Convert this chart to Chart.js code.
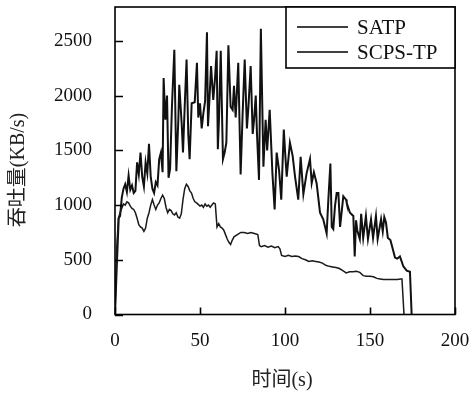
<!DOCTYPE html>
<html>
<head>
<meta charset="utf-8">
<script src="https://cdn.jsdelivr.net/npm/chart.js@4/dist/chart.umd.min.js"></script>
<style>
  html, body { margin: 0; padding: 0; background: #fff; }
  #wrap { width: 474px; height: 393px; }
</style>
</head>
<body>
<div id="wrap"><canvas id="c" width="474" height="393"></canvas></div>
<script>
// Throughput over time for two transport protocols
const seriesNames = ['SATP', 'SCPS-TP'];
const xTitle = '时间(s)';
const yTitle = '吞吐量(KB/s)';
const xTicks = [0, 50, 100, 150, 200];
const yTicks = [0, 500, 1000, 1500, 2000, 2500];

const satpTime = [0, 1, 2, 3, 4, 5, 6, 7, 8, 9, 10, 11, 12, 13, 14, 15, 16, 17, 18, 19,
  20, 21, 22, 23, 24, 25, 26, 27, 28, 29, 30, 31, 32, 33, 34, 35, 36, 37, 38, 39,
  40, 41, 42, 43, 44, 45, 46, 47, 48, 50, 51, 52, 53, 54, 55, 56, 57, 58, 59, 60,
  61, 62, 63, 64, 65, 66, 67, 68, 69, 70, 72, 74, 76, 78, 80, 82, 84, 85, 86, 88,
  90, 92, 94, 96, 97, 98, 100, 102, 104, 106, 108, 110, 112, 114, 116, 118, 120, 122, 124, 126,
  128, 130, 132, 134, 136, 138, 140, 142, 144, 146, 148, 150, 152, 154, 156, 158, 160, 162, 164, 166,
  168, 168.8, 170];
const satpValue = [0, 600, 880, 930, 970, 1010, 1000, 1030, 1020, 990, 970, 960, 930, 880, 820, 800, 790, 760, 790, 880,
  930, 1000, 1050, 1000, 960, 1000, 1020, 1060, 1090, 1060, 980, 930, 960, 950, 920, 910, 930, 890, 880, 920,
  1050, 1150, 1190, 1170, 1130, 1110, 1060, 1030, 1020, 990, 1000, 980, 1010, 990, 1000, 980, 1000, 1020, 1010, 800,
  830, 800, 790, 770, 730, 690, 660, 640, 680, 710, 730, 750, 750, 740, 750, 740, 730, 630, 620, 630,
  615, 625, 610, 620, 600, 540, 530, 540, 530, 535, 530, 510, 500, 485, 490, 485, 480, 470, 450, 440,
  435, 430, 420, 400, 380, 390, 390, 395, 385, 355, 350, 350, 345, 330, 325, 320, 320, 320, 320, 320,
  325, 325, 0];

const scpsTime = [0, 1.2, 2.2, 3, 4, 5, 6, 7, 8, 9, 10, 11, 12, 13, 14, 15, 16, 17, 18, 19,
  20, 21, 22, 23, 24, 25, 26, 27, 28, 28.6, 29.6, 30.6, 31.5, 32.4, 33.5, 34.9, 36.1, 37.3, 37.8, 39.2,
  40, 41, 42.1, 43.1, 43.9, 45.1, 46.9, 48.2, 49, 50, 51, 52, 53, 54.1, 54.7, 55.5, 56.5, 57.8, 58.8, 59.8,
  60.5, 61.2, 62.2, 63.5, 64.5, 65.5, 66.7, 68, 69.2, 70, 71, 72.5, 73.9, 75, 76.3, 77.6, 78.5, 79.8, 81, 81.8,
  82.8, 83.5, 84.7, 85.8, 87.3, 88.6, 89.5, 91, 92.6, 93.9, 95.1, 96.5, 97.8, 99.3, 100, 101, 102.9, 104.5, 105.9, 107.8,
  109.2, 110.8, 112.7, 114.7, 115.7, 117, 118.6, 120.6, 122.5, 124.5, 125.5, 126.7, 127.5, 128.4, 129.4, 130.4, 131.4, 132.4, 134.3, 135.9,
  136.3, 138.2, 140.2, 141, 141.8, 142.5, 144, 144.8, 146, 147.6, 148.8, 150.6, 151.8, 153.5, 154.5, 156.5, 157.5, 158.4, 159.4, 160.5,
  162, 163.7, 164.7, 166, 167.6, 169.6, 171.6, 173.5, 174.5];
const scpsValue = [0, 500, 880, 900, 1070, 1150, 1190, 1120, 1270, 1140, 1180, 1110, 1130, 1390, 1280, 1480, 1260, 1170, 1390, 1290,
  1560, 1260, 1150, 1110, 1210, 1180, 1420, 1480, 1300, 2160, 1780, 2000, 1250, 1330, 1900, 2420, 1310, 1800, 2100, 1750,
  1480, 1900, 2330, 1650, 1420, 1930, 1940, 2300, 1800, 1930, 1700, 1840, 1950, 2580, 1720, 1950, 2270, 1960, 2150, 2410,
  1510, 1800, 2410, 1420, 1480, 1570, 2460, 1900, 1870, 2090, 1800, 2300, 1280, 1800, 2330, 1700, 1900, 2270, 1650, 1780,
  2000, 1660, 1230, 2610, 1350, 1780, 1500, 1870, 1290, 960, 1480, 1320, 1050, 1690, 1500, 1260, 1570, 1450, 1260, 1050,
  1440, 1100, 1290, 1420, 1200, 1300, 1200, 930, 870, 740, 1050, 1380, 800, 780, 990, 1110, 1110, 800, 1080, 1050,
  1020, 930, 900, 530, 860, 770, 690, 920, 700, 900, 690, 870, 700, 900, 690, 870, 760, 890, 840, 700,
  680, 580, 520, 510, 530, 440, 400, 390, 0];

const serifFamily = '"Liberation Serif", "Times New Roman", "Noto Sans CJK SC", serif';

function toPoints(xs, ys) {
  return xs.map((x, i) => ({ x: x, y: ys[i] }));
}

// keep the plot area fixed: no extra room reserved for edge labels
function fixScale(s, size) {
  if (s.isHorizontal()) s.height = size; else s.width = size;
  s.paddingTop = 0;
  s.paddingBottom = 0;
  s.paddingLeft = 0;
  s.paddingRight = 0;
}

// Frame, inward tick marks, axis titles and the boxed legend
const decorations = {
  id: 'decorations',
  afterDraw(chart) {
    const ctx = chart.ctx;
    const a = chart.chartArea;
    const xs = chart.scales.x;
    const ys = chart.scales.y;
    ctx.save();
    ctx.strokeStyle = '#000';
    ctx.lineWidth = 1.6;
    ctx.strokeRect(a.left, a.top, a.right - a.left, a.bottom - a.top);

    ctx.beginPath();
    yTicks.forEach(v => {
      const py = Math.round(ys.getPixelForValue(v)) + 0.5;
      ctx.moveTo(a.left, py);
      ctx.lineTo(a.left + 8, py);
    });
    xTicks.forEach(v => {
      const px = Math.round(xs.getPixelForValue(v)) + 0.5;
      ctx.moveTo(px, a.bottom);
      ctx.lineTo(px, a.bottom - 7);
    });
    ctx.stroke();

    // axis titles
    ctx.fillStyle = '#222';
    ctx.font = '20px ' + serifFamily;
    ctx.textAlign = 'center';
    ctx.textBaseline = 'middle';
    ctx.fillText(xTitle, (a.left + a.right) / 2 - 3, 381);
    ctx.save();
    ctx.translate(19, 170);
    ctx.rotate(-Math.PI / 2);
    ctx.fillText(yTitle, 0, 0);
    ctx.restore();

    // legend box in the upper right corner of the plot
    const bx = 286, by = a.top, bw = a.right - 286, bh = 61;
    ctx.fillStyle = '#fff';
    ctx.fillRect(bx, by, bw, bh);
    ctx.lineWidth = 1.6;
    ctx.strokeRect(bx, by, bw, bh);
    ctx.font = '21px ' + serifFamily;
    ctx.textAlign = 'left';
    ctx.textBaseline = 'middle';
    chart.data.datasets.forEach((ds, i) => {
      const ly = by + 20 + i * 25;
      ctx.strokeStyle = '#000';
      ctx.lineWidth = 1.4;
      ctx.beginPath();
      ctx.moveTo(297, ly);
      ctx.lineTo(348, ly);
      ctx.stroke();
      ctx.fillStyle = '#111';
      ctx.fillText(ds.label, 357, ly + 1);
    });
    ctx.restore();
  }
};

new Chart(document.getElementById('c'), {
  type: 'line',
  data: {
    datasets: [
      {
        label: seriesNames[0],
        data: toPoints(satpTime, satpValue),
        borderColor: '#1a1a1a',
        borderWidth: 1.5,
        pointRadius: 0,
        tension: 0,
        fill: false
      },
      {
        label: seriesNames[1],
        data: toPoints(scpsTime, scpsValue),
        borderColor: '#111',
        borderWidth: 2,
        pointRadius: 0,
        tension: 0,
        fill: false
      }
    ]
  },
  options: {
    responsive: false,
    animation: false,
    devicePixelRatio: 1,
    layout: { padding: { left: 0, right: 19, top: 7, bottom: 0 } },
    plugins: {
      legend: { display: false },
      tooltip: { enabled: false }
    },
    scales: {
      x: {
        type: 'linear',
        min: 0,
        max: 200,
        afterBuildTicks: s => { s.ticks = xTicks.map(v => ({ value: v })); },
        afterFit: s => fixScale(s, 78.5),
        ticks: {
          color: '#111',
          padding: 15,
          maxRotation: 0,
          callback: v => String(v),
          font: { family: serifFamily, size: 19 }
        },
        grid: { display: false, drawTicks: false },
        border: { display: false }
      },
      y: {
        type: 'linear',
        min: 0,
        max: 2810,
        afterBuildTicks: s => { s.ticks = yTicks.map(v => ({ value: v })); },
        afterFit: s => fixScale(s, 115),
        ticks: {
          color: '#111',
          padding: 23,
          callback: v => String(v),
          font: { family: serifFamily, size: 19 }
        },
        grid: { display: false, drawTicks: false },
        border: { display: false }
      }
    }
  },
  plugins: [decorations]
});
</script>
</body>
</html>
